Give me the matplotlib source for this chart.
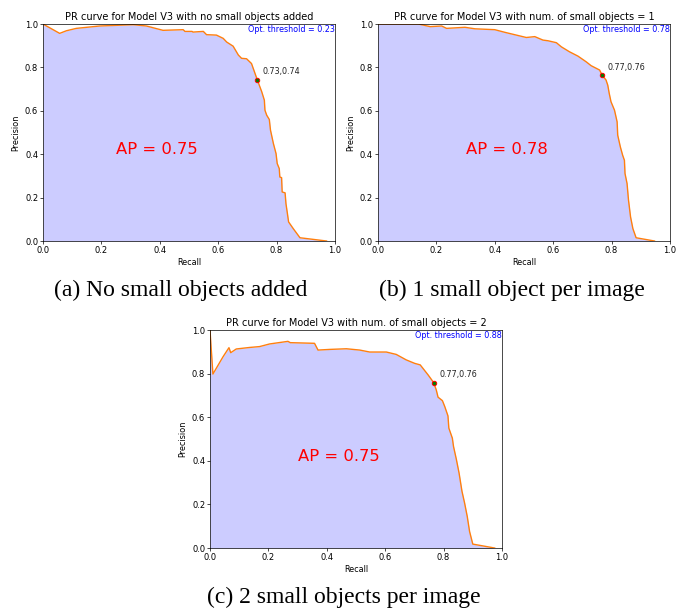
import matplotlib.pyplot as plt
import numpy as np

# values
recall_a = [0.0, 0.057, 0.08, 0.114, 0.194, 0.309, 0.354, 0.411, 0.48, 0.486, 0.51, 0.514,
            0.549, 0.56, 0.594, 0.617, 0.629, 0.651, 0.669, 0.68, 0.697, 0.714, 0.734,
            0.749, 0.758, 0.76, 0.766, 0.775, 0.779, 0.789, 0.798, 0.802, 0.809, 0.811,
            0.817, 0.819, 0.829, 0.832, 0.837, 0.841, 0.857, 0.874, 0.88, 0.971]
precision_a = [1.0, 0.957, 0.969, 0.98, 0.991, 0.997, 0.991, 0.971, 0.974, 0.966, 0.966, 0.963,
               0.966, 0.951, 0.949, 0.934, 0.917, 0.898, 0.857, 0.842, 0.84, 0.818, 0.742,
               0.688, 0.649, 0.603, 0.58, 0.56, 0.511, 0.449, 0.403, 0.357, 0.334, 0.295,
               0.292, 0.226, 0.222, 0.172, 0.126, 0.088, 0.057, 0.026, 0.015, 0.0]

recall_b = [0.0, 0.139, 0.179, 0.218, 0.235, 0.298, 0.332, 0.4, 0.434, 0.474, 0.508, 0.537,
            0.565, 0.582, 0.611, 0.628, 0.656, 0.685, 0.713, 0.73, 0.759, 0.768, 0.781,
            0.787, 0.792, 0.798, 0.81, 0.819, 0.821, 0.83, 0.838, 0.844, 0.846, 0.853,
            0.858, 0.865, 0.873, 0.884, 0.947]
precision_b = [1.0, 1.0, 0.988, 0.991, 0.98, 0.985, 0.978, 0.974, 0.962, 0.949, 0.938, 0.942,
               0.926, 0.923, 0.914, 0.895, 0.872, 0.852, 0.826, 0.808, 0.788, 0.764, 0.742,
               0.718, 0.68, 0.642, 0.603, 0.549, 0.488, 0.434, 0.395, 0.372, 0.311, 0.265,
               0.188, 0.111, 0.057, 0.015, 0.0]

recall_c = [0.0, 0.01, 0.045, 0.065, 0.071, 0.09, 0.136, 0.17, 0.204, 0.267, 0.275, 0.358,
            0.37, 0.41, 0.467, 0.513, 0.547, 0.604, 0.638, 0.672, 0.701, 0.72, 0.747,
            0.766, 0.775, 0.781, 0.796, 0.804, 0.815, 0.818, 0.83, 0.834, 0.844, 0.853,
            0.863, 0.872, 0.881, 0.889, 0.9, 0.975]
precision_c = [1.0, 0.798, 0.878, 0.919, 0.896, 0.913, 0.92, 0.924, 0.936, 0.948, 0.942, 0.939,
               0.908, 0.911, 0.914, 0.908, 0.899, 0.899, 0.888, 0.863, 0.847, 0.84, 0.794,
               0.759, 0.725, 0.692, 0.676, 0.649, 0.606, 0.55, 0.504, 0.466, 0.405, 0.344,
               0.26, 0.206, 0.145, 0.076, 0.018, 0.0]

titles = ["PR curve for Model V3 with no small objects added",
          "PR curve for Model V3 with num. of small objects = 1",
          "PR curve for Model V3 with num. of small objects = 2"]
captions = ["(a) No small objects added", "(b) 1 small object per image",
            "(c) 2 small objects per image"]
ap_values = [0.75, 0.78, 0.75]
ap_text_x = [0.25, 0.3, 0.3]
opt_thresholds = [0.23, 0.78, 0.88]
opt_recall = [0.734, 0.768, 0.766]
opt_precision = [0.742, 0.764, 0.759]


def plot_pr(ax, rec, prec, title, ap, ap_x, thr, orec, oprec):
    ax.fill_between(rec, prec, color='blue', alpha=0.2, linewidth=0)
    ax.plot(rec, prec, color='#ff7f0e', lw=1.0)
    ax.plot(orec, oprec, 'o', ms=3.2, mfc='green', mec='red', mew=0.7)
    ax.annotate("%.2f,%.2f" % (orec, oprec), (orec, oprec), textcoords='offset points',
                xytext=(4, 4), fontsize=5.8, color='#222222')
    ax.text(ap_x, 0.4, "AP = %.2f" % ap, color='red', fontsize=11.8)
    ax.text(1.0, 0.995, "Opt. threshold = %.2f" % thr, color='blue', fontsize=5.8,
            ha='right', va='top', transform=ax.transAxes)
    ax.set_xlim(0, 1)
    ax.set_ylim(0, 1)
    ax.set_title(title, fontsize=7, pad=3)
    ax.set_xlabel("Recall", fontsize=5.9, labelpad=2)
    ax.set_ylabel("Precision", fontsize=5.9, labelpad=3)
    ax.tick_params(labelsize=6, length=2, width=0.5, pad=1.5)
    for sp in ax.spines.values():
        sp.set_linewidth(0.5)


fig = plt.figure(figsize=(6.84, 6.1), dpi=100)
boxes = [[0.0629, 0.6049, 0.4269, 0.3557],
         [0.5526, 0.6049, 0.4269, 0.3557],
         [0.307, 0.1016, 0.4269, 0.3574]]
data = [(recall_a, precision_a), (recall_b, precision_b), (recall_c, precision_c)]
for i in range(3):
    ax = fig.add_axes(boxes[i])
    plot_pr(ax, data[i][0], data[i][1], titles[i], ap_values[i], ap_text_x[i],
            opt_thresholds[i], opt_recall[i], opt_precision[i])

cap_pos = [(181 / 684, 1 - 290 / 610), (512 / 684, 1 - 290 / 610), (344 / 684, 1 - 597 / 610)]
for (cx, cy), cap in zip(cap_pos, captions):
    fig.text(cx, cy, cap, ha='center', va='center', fontsize=17, family='Liberation Serif')

fig.savefig("out.png", dpi=100)
